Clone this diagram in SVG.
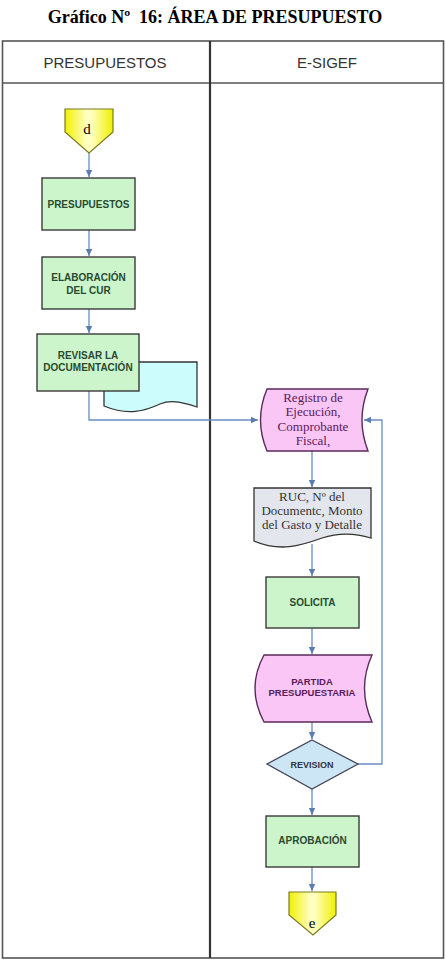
<svg xmlns="http://www.w3.org/2000/svg" width="446" height="966" viewBox="0 0 446 966">
<defs>
<style>
.title{font-family:"Liberation Serif",serif;font-weight:bold;font-size:18px;fill:#000}
.hdr{font-family:"Liberation Sans",sans-serif;font-size:15px;fill:#333}
.gb{fill:#ccf5cc;stroke:#3a3a3a;stroke-width:1.4}
.gt{font-family:"Liberation Sans",sans-serif;font-weight:bold;font-size:10px;fill:#2a4a30;text-anchor:middle}
.pk{fill:#f9c6f5;stroke:#5a2a5a;stroke-width:1.4}
.pt{font-family:"Liberation Serif",serif;font-size:13px;fill:#5a1a5a;text-anchor:middle}
.pts{font-family:"Liberation Sans",sans-serif;font-weight:bold;font-size:9.5px;fill:#5a1a5a;text-anchor:middle}
.st{font-family:"Liberation Serif",serif;font-size:13px;fill:#333;text-anchor:middle}
.conn{fill:none;stroke:#6a8cc0;stroke-width:1.3}
.yl{fill:url(#yg);stroke:#7a7a20;stroke-width:1.2}
</style>
<linearGradient id="yg" x1="0" y1="0" x2="1" y2="0">
<stop offset="0" stop-color="#f0f000"/>
<stop offset="0.45" stop-color="#ffffc0"/>
<stop offset="0.55" stop-color="#ffffc0"/>
<stop offset="1" stop-color="#f0f000"/>
</linearGradient>
<marker id="ah" markerWidth="8" markerHeight="8" refX="7" refY="4" orient="auto" markerUnits="userSpaceOnUse">
<path d="M0,0.8 L7,4 L0,7.2 Z" fill="#5a7cb0"/>
</marker>
</defs>
<rect width="446" height="966" fill="#fff"/>
<text class="title" x="215" y="23" text-anchor="middle" xml:space="preserve">Gráfico Nº  16: ÁREA DE PRESUPUESTO</text>

<g id="lanes">
<rect x="2.5" y="41" width="441" height="917" fill="none" stroke="#555" stroke-width="1.6"/>
<line x1="2.5" y1="83" x2="443.5" y2="83" stroke="#555" stroke-width="1.4"/>
<line x1="210" y1="41" x2="210" y2="958" stroke="#333" stroke-width="2.2"/>
<text class="hdr" x="105" y="67.5" text-anchor="middle">PRESUPUESTOS</text>
<text class="hdr" x="327" y="67.5" text-anchor="middle">E-SIGEF</text>
</g>

<g id="connectors">
<line class="conn" x1="89" y1="153" x2="89" y2="177" marker-end="url(#ah)"/>
<line class="conn" x1="89" y1="230" x2="89" y2="256" marker-end="url(#ah)"/>
<line class="conn" x1="89" y1="309" x2="89" y2="333" marker-end="url(#ah)"/>
<polyline class="conn" points="89,391 89,420 258,420" marker-end="url(#ah)"/>
<line class="conn" x1="312" y1="451" x2="312" y2="487" marker-end="url(#ah)"/>
<line class="conn" x1="312" y1="544" x2="312" y2="576" marker-end="url(#ah)"/>
<line class="conn" x1="312" y1="628" x2="312" y2="654" marker-end="url(#ah)"/>
<line class="conn" x1="312" y1="722" x2="312" y2="739" marker-end="url(#ah)"/>
<polyline class="conn" points="358,764 382,764 382,420 364,420" marker-end="url(#ah)"/>
<line class="conn" x1="312" y1="789" x2="312" y2="815" marker-end="url(#ah)"/>
<line class="conn" x1="312" y1="867" x2="312" y2="891" marker-end="url(#ah)"/>
</g>

<g id="start-d">
<path class="yl" d="M65,109 H113 V132 L89,153 L65,132 Z"/>
<text x="87" y="134" font-family="Liberation Serif,serif" font-size="15" text-anchor="middle">d</text>
</g>

<g id="presupuestos">
<rect class="gb" x="42" y="178" width="93" height="52"/>
<text class="gt" x="88.5" y="207.5">PRESUPUESTOS</text>
</g>

<g id="elaboracion">
<rect class="gb" x="42" y="257" width="93" height="52"/>
<text class="gt" x="88.5" y="280.5">ELABORACIÓN</text>
<text class="gt" x="88.5" y="293.5">DEL CUR</text>
</g>

<g id="documento">
<path d="M104,362 H197 V407 C185,403 172,399 160,404 C145,411 128,416 104,406 Z" fill="#ccfcfc" stroke="#333" stroke-width="1.3"/>
</g>

<g id="revisar">
<rect class="gb" x="37" y="334" width="102" height="57"/>
<text class="gt" x="88" y="359">REVISAR LA</text>
<text class="gt" x="88" y="371">DOCUMENTACIÓN</text>
</g>

<g id="registro">
<path class="pk" d="M267,389 H368 Q356,420 368,451 H267 Q254,420 267,389 Z"/>
<text class="pt" x="313" y="402">Registro de</text>
<text class="pt" x="313" y="416">Ejecución,</text>
<text class="pt" x="313" y="431">Comprobante</text>
<text class="pt" x="313" y="445">Fiscal,</text>
</g>

<g id="ruc">
<path d="M254,488 H371 V538 C355,533 340,532 322,538 C300,546 280,552 254,541 Z" fill="#e4e6ee" stroke="#333" stroke-width="1.3"/>
<text class="st" x="312" y="501">RUC, Nº del</text>
<text class="st" x="312" y="515">Documentc, Monto</text>
<text class="st" x="312" y="529">del Gasto y Detalle</text>
</g>

<g id="solicita">
<rect class="gb" x="266" y="577" width="93" height="51"/>
<text class="gt" x="312.5" y="606">SOLICITA</text>
</g>

<g id="partida">
<path class="pk" d="M264,655 H372 Q357,688 372,722 H264 Q246,688 264,655 Z"/>
<text class="pts" x="312" y="685">PARTIDA</text>
<text class="pts" x="312" y="696">PRESUPUESTARIA</text>
</g>

<g id="revision">
<path d="M312,740 L358,764 L312,789 L267,764 Z" fill="#cde6f5" stroke="#445" stroke-width="1.3"/>
<text x="312" y="767.5" font-family="Liberation Sans,sans-serif" font-weight="bold" font-size="9" fill="#334" text-anchor="middle">REVISION</text>
</g>

<g id="aprobacion">
<rect class="gb" x="266" y="816" width="93" height="51"/>
<text class="gt" x="312.5" y="844">APROBACIÓN</text>
</g>

<g id="end-e">
<path class="yl" d="M289,892 H336 V915 L313,935 L289,915 Z"/>
<text x="312" y="928" font-family="Liberation Serif,serif" font-size="15" text-anchor="middle">e</text>
</g>
</svg>
